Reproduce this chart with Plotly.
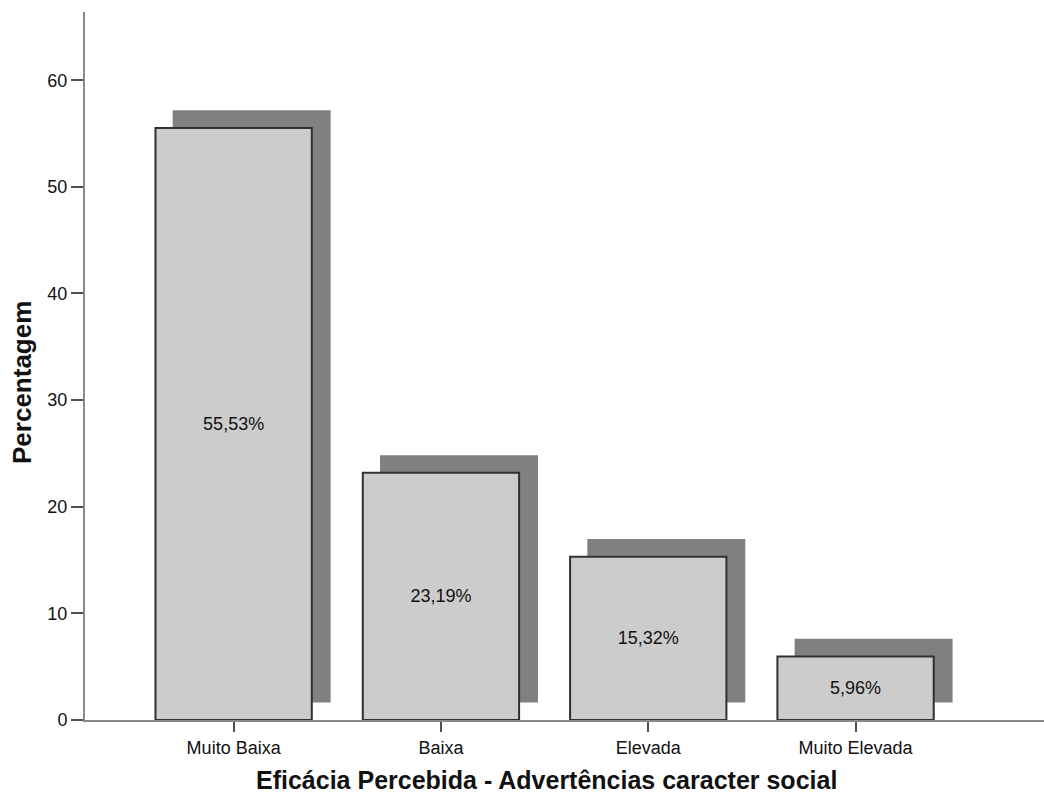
import plotly.graph_objects as go

categories = ["Muito Baixa", "Baixa", "Elevada", "Muito Elevada"]
percentages = [55.53, 23.19, 15.32, 5.96]
labels = ["55,53%", "23,19%", "15,32%", "5,96%"]
y_ticks = [0, 10, 20, 30, 40, 50, 60]

x_pos = list(range(len(categories)))
shadow_dx = 0.087   # shadow shift to the right (category units)
shadow_dy = 1.65    # shadow lift (percentage units)

FONT = "Liberation Sans, Arial, sans-serif"

fig = go.Figure()

# drop shadow behind each bar
fig.add_trace(go.Bar(
    x=[p + shadow_dx for p in x_pos],
    y=percentages,
    base=[shadow_dy] * len(percentages),
    width=0.762,
    marker=dict(color="#808080", line=dict(width=0)),
    hoverinfo="skip",
    showlegend=False,
))

# main bars
fig.add_trace(go.Bar(
    x=x_pos,
    y=percentages,
    width=0.754,
    marker=dict(color="#cccccc", line=dict(color="#303030", width=2)),
    text=labels,
    textposition="inside",
    insidetextanchor="middle",
    textangle=0,
    textfont=dict(family=FONT, size=18, color="#111111"),
    showlegend=False,
))

fig.update_layout(
    width=1044,
    height=796,
    margin=dict(l=85, r=0, t=12, b=76),
    paper_bgcolor="white",
    plot_bgcolor="white",
    barmode="overlay",
    font=dict(family=FONT, size=18, color="#111111"),
    xaxis=dict(
        range=[-0.717, 3.909],
        tickvals=x_pos,
        ticktext=categories,
        showgrid=False,
        zeroline=False,
        showline=True,
        linecolor="#8a8a8a",
        linewidth=2,
        ticks="outside",
        ticklen=10,
        tickwidth=2,
        tickcolor="#505050",
        tickfont=dict(size=18),
    ),
    yaxis=dict(
        range=[0, 66.4],
        tickvals=y_ticks,
        showgrid=False,
        zeroline=False,
        showline=True,
        linecolor="#8a8a8a",
        linewidth=2,
        ticks="outside",
        ticklen=12,
        tickwidth=2,
        tickcolor="#505050",
        tickfont=dict(size=18),
    ),
    annotations=[
        dict(
            text="<b>Eficácia Percebida - Advertências caracter social</b>",
            xref="paper", yref="paper",
            x=(546 - 85) / 959, y=-(796 - 720) / 708,
            xanchor="center", yanchor="bottom",
            showarrow=False,
            font=dict(size=25, color="#111111"),
        ),
        dict(
            text="<b>Percentagem</b>",
            xref="paper", yref="paper",
            x=-(85 - 22) / 959, y=(720 - 383) / 708,
            xanchor="center", yanchor="middle",
            textangle=-90,
            showarrow=False,
            font=dict(size=26, color="#111111"),
        ),
    ],
)

fig.write_html("out.html")
